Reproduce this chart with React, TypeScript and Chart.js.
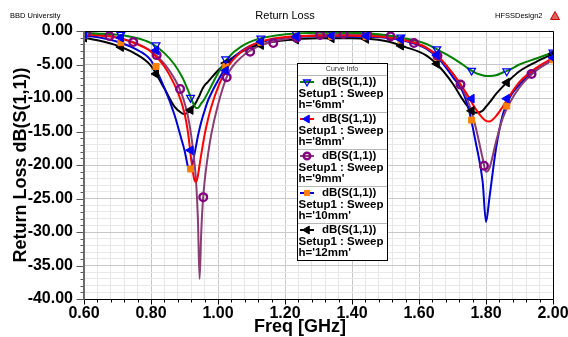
import React, { useEffect, useRef } from 'react';
import { Chart, registerables } from 'chart.js';

Chart.register(...registerables);

// ---- data ----
const freqs = [
  0.60, 0.65, 0.70, 0.75, 0.80, 0.84, 0.87, 0.89, 0.90, 0.905, 0.91, 0.915, 0.92, 0.925, 0.93, 0.935,
  0.94, 0.945, 0.95, 0.955, 0.96, 0.97, 0.98, 1.00, 1.03, 1.07, 1.12, 1.20, 1.30, 1.40, 1.50, 1.56,
  1.62, 1.66, 1.70, 1.73, 1.75, 1.77, 1.79, 1.80, 1.81, 1.83, 1.85, 1.87, 1.90, 1.95, 2.00,
];

const h6 = [
  -0.3, -0.4, -0.55, -0.95, -1.8, -3.3, -5.0, -6.6, -7.6, -8.2, -8.8, -9.4, -10.1, -10.7, -11.2, -11.5,
  -11.5, -11.2, -10.8, -10.5, -10.1, -9.2, -8.2, -6.3, -4.0, -2.3, -1.2, -0.5, -0.25, -0.25, -0.6, -1.1,
  -1.9, -2.9, -4.0, -5.0, -5.7, -6.3, -6.6, -6.7, -6.7, -6.6, -6.2, -5.8, -5.0, -4.1, -3.2,
];

const h8 = [
  -0.5, -0.7, -1.0, -1.8, -3.1, -5.3, -8.0, -10.5, -12.3, -13.5, -15.0, -17.0, -19.2, -21.0, -22.3, -22.5,
  -21.6, -20.0, -18.4, -16.9, -15.5, -13.2, -11.3, -8.4, -5.3, -3.1, -1.7, -0.9, -0.7, -0.7, -0.9, -1.4,
  -2.4, -3.9, -6.3, -8.4, -10.0, -11.7, -13.0, -13.4, -13.5, -12.7, -11.3, -9.7, -7.6, -5.5, -4.0,
];

const h9 = [
  -0.2, -0.5, -1.0, -1.7, -3.0, -4.9, -7.1, -9.2, -10.7, -11.6, -12.7, -14.0, -15.6, -17.5, -19.8, -22.8,
  -28.0, -37.0, -30.0, -25.3, -22.5, -18.5, -15.4, -11.0, -6.4, -3.9, -2.3, -1.2, -0.6, -0.45, -0.75, -1.3,
  -2.5, -4.0, -6.3, -8.6, -11.0, -14.5, -19.0, -21.0, -20.5, -16.5, -13.0, -10.8, -8.4, -5.9, -4.3,
];

const h10 = [
  -0.7, -1.0, -1.6, -2.6, -4.4, -8.5, -12.5, -16.0, -17.8, -19.0, -20.2, -20.9, -20.6, -19.6, -18.3, -17.0,
  -15.7, -14.6, -13.6, -12.7, -11.9, -10.4, -9.3, -7.4, -4.9, -3.0, -1.8, -1.0, -0.8, -0.85, -1.0, -1.5,
  -2.6, -4.2, -6.8, -9.0, -12.0, -16.8, -22.5, -28.5, -25.0, -17.5, -12.5, -10.0, -8.0, -5.8, -4.3,
];

const h12 = [
  -1.0, -1.5, -2.2, -3.3, -5.2, -8.6, -11.3, -12.2, -12.4, -12.3, -12.2, -12.0, -11.7, -11.4, -11.0, -10.6,
  -10.1, -9.6, -9.0, -8.5, -8.1, -7.6, -7.0, -5.9, -4.5, -3.1, -2.1, -1.4, -1.1, -1.1, -1.5, -2.4,
  -3.6, -5.3, -7.8, -10.2, -11.5, -12.2, -11.9, -11.3, -10.7, -9.4, -8.3, -7.3, -6.0, -4.6, -3.4,
];

const markerFreqs = [0.60, 0.71, 0.815, 0.918, 1.023, 1.128, 1.233, 1.339, 1.442, 1.546, 1.653, 1.757, 1.862, 2.00];
const h6Markers = [-0.3, -0.55, -2.1, -9.95, -4.2, -1.1, -0.4, -0.2, -0.35, -0.95, -2.7, -5.9, -6.0, -3.2];
const h8Markers = [-0.5, -1.0, -2.9, -17.8, -5.9, -1.6, -0.85, -0.7, -0.75, -1.25, -3.6, -10.1, -10.1, -4.0];
const h10Markers = [-0.7, -1.75, -5.3, -20.6, -5.3, -1.7, -0.95, -0.8, -0.85, -1.35, -3.9, -13.3, -11.2, -4.3];
const h12Markers = [-1.0, -2.4, -6.4, -11.8, -4.8, -2.1, -1.3, -1.1, -1.2, -2.2, -4.9, -11.9, -7.7, -3.4];

const h9MarkerFreqs = [0.606, 0.676, 0.747, 0.817, 0.887, 0.956, 1.026, 1.096, 1.165, 1.235, 1.305, 1.375, 1.445, 1.515, 1.585, 1.655, 1.724, 1.794, 1.936];
const h9Markers = [-0.25, -0.75, -1.65, -3.6, -8.65, -24.8, -6.9, -3.1, -1.8, -1.0, -0.6, -0.45, -0.45, -0.8, -1.8, -3.7, -8.0, -20.1, -6.4];

const seriesNames = ["h='6mm'", "h='8mm'", "h='9mm'", "h='10mm'", "h='12mm'"];
const xTickLabels = ['0.60', '0.80', '1.00', '1.20', '1.40', '1.60', '1.80', '2.00'];
const yTickLabels = ['0.00', '-5.00', '-10.00', '-15.00', '-20.00', '-25.00', '-30.00', '-35.00', '-40.00'];

const chartTitle = 'Return Loss';
const xTitle = 'Freq [GHz]';
const yTitle = 'Return Loss dB(S(1,1))';
const leftNote = 'BBD University';
const rightNote = 'HFSSDesign2';
const legendHeader = 'Curve Info';
const legendLine1 = 'dB(S(1,1))';
const legendLine2 = 'Setup1 : Sweep';

// ---- styles ----
const FONT = '"Liberation Sans", Arial, Helvetica, sans-serif';
const styles = [
  { line: '#008000', mColor: '#0000ff', mFill: 'rgba(255,255,255,0)', pointStyle: 'triangle', rotation: 180, radius: 4.5, bw: 1.3 },
  { line: '#ff0000', mColor: '#0000ff', mFill: '#0000ff', pointStyle: 'triangle', rotation: -90, radius: 5, bw: 1 },
  { line: '#8a3d72', mColor: '#800080', mFill: 'rgba(255,255,255,0)', pointStyle: 'circle', rotation: 0, radius: 3.8, bw: 2.4 },
  { line: '#0000d0', mColor: '#ff8000', mFill: '#ff8000', pointStyle: 'rect', rotation: 0, radius: 4.2, bw: 1 },
  { line: '#000000', mColor: '#000000', mFill: '#000000', pointStyle: 'triangle', rotation: -90, radius: 5, bw: 1 },
];

const lineSeries = [h6, h8, h9, h10, h12];
const markerSeries = [
  { f: markerFreqs, v: h6Markers },
  { f: markerFreqs, v: h8Markers },
  { f: h9MarkerFreqs, v: h9Markers },
  { f: markerFreqs, v: h10Markers },
  { f: markerFreqs, v: h12Markers },
];

const isMult = (v: number, step: number) => Math.abs(v / step - Math.round(v / step)) < 1e-6;

function drawMarker(ctx: CanvasRenderingContext2D, s: any, cx: number, cy: number, r: number) {
  ctx.save();
  ctx.translate(cx, cy);
  ctx.rotate((s.rotation * Math.PI) / 180);
  ctx.beginPath();
  if (s.pointStyle === 'circle') {
    ctx.arc(0, 0, r, 0, Math.PI * 2);
  } else if (s.pointStyle === 'rect') {
    const h = r / Math.SQRT2;
    ctx.rect(-h, -h, 2 * h, 2 * h);
  } else {
    const e = (r * 3) / Math.sqrt(3);
    const hgt = (e * Math.sqrt(3)) / 2;
    ctx.moveTo(0, -hgt * 2 / 3);
    ctx.lineTo(e / 2, hgt / 3);
    ctx.lineTo(-e / 2, hgt / 3);
    ctx.closePath();
  }
  ctx.fillStyle = s.mFill;
  ctx.fill();
  ctx.strokeStyle = s.mColor;
  ctx.lineWidth = s.bw;
  ctx.stroke();
  ctx.restore();
}

const overlayPlugin = {
  id: 'overlay',
  afterDraw(chart: any) {
    const { ctx, chartArea: a, scales } = chart;
    const x = scales.x;
    const y = scales.y;
    ctx.save();
    const L = Math.round(a.left) + 0.5;
    const T = Math.round(a.top) + 0.5;
    const R = Math.round(a.right) + 0.5;
    const B = Math.round(a.bottom) + 0.5;
    // frame: top, right, bottom black; left axis gray and thicker
    ctx.strokeStyle = '#000';
    ctx.lineWidth = 1;
    ctx.beginPath();
    ctx.moveTo(L, T);
    ctx.lineTo(R, T);
    ctx.lineTo(R, B);
    ctx.lineTo(L, B);
    ctx.stroke();
    ctx.strokeStyle = '#000';
    x.ticks.forEach((t: any) => {
      const px = Math.round(x.getPixelForValue(t.value)) + 0.5;
      const major = isMult(t.value, 0.2);
      ctx.beginPath();
      ctx.moveTo(px, B);
      ctx.lineTo(px, B + (major ? 5 : 3));
      ctx.stroke();
    });
    ctx.strokeStyle = '#555';
    y.ticks.forEach((t: any) => {
      const py = Math.round(y.getPixelForValue(t.value)) + 0.5;
      const major = isMult(t.value, 5);
      ctx.beginPath();
      ctx.moveTo(L, py);
      ctx.lineTo(L - (major ? 8 : 4), py);
      ctx.stroke();
    });
    ctx.strokeStyle = '#6a6a6a';
    ctx.lineWidth = 2;
    ctx.beginPath();
    ctx.moveTo(Math.round(a.left), T);
    ctx.lineTo(Math.round(a.left), B);
    ctx.stroke();
    ctx.lineWidth = 1;

    ctx.fillStyle = '#000';
    ctx.textBaseline = 'middle';
    ctx.font = `7.5px ${FONT}`;
    ctx.textAlign = 'left';
    ctx.fillText(leftNote, 10, 16);
    ctx.fillText(rightNote, 495, 16);
    ctx.font = `11px ${FONT}`;
    ctx.textAlign = 'center';
    ctx.fillText(chartTitle, 285, 16);
    ctx.beginPath();
    ctx.moveTo(555, 11.5);
    ctx.lineTo(559.5, 19.5);
    ctx.lineTo(550.5, 19.5);
    ctx.closePath();
    ctx.fillStyle = '#e06060';
    ctx.fill();
    ctx.strokeStyle = '#cc0000';
    ctx.stroke();

    ctx.fillStyle = '#000';
    ctx.font = `bold 18px ${FONT}`;
    ctx.textAlign = 'center';
    ctx.fillText(xTitle, 300, 327);
    ctx.save();
    ctx.translate(21, (a.top + a.bottom) / 2);
    ctx.rotate(-Math.PI / 2);
    ctx.fillText(yTitle, 0, 0);
    ctx.restore();

    const lx = 297, ly = 63, lw = 90, headH = 12, entryH = 37;
    const lh = headH + entryH * 5;
    ctx.fillStyle = '#fff';
    ctx.fillRect(lx, ly, lw, lh);
    ctx.strokeStyle = '#000';
    ctx.lineWidth = 1;
    ctx.strokeRect(lx + 0.5, ly + 0.5, lw, lh);
    ctx.fillStyle = '#333';
    ctx.font = `7px ${FONT}`;
    ctx.textAlign = 'center';
    ctx.fillText(legendHeader, lx + lw / 2, ly + 6.5);
    for (let i = 0; i < 5; i++) {
      const y0 = ly + headH + i * entryH;
      ctx.strokeStyle = '#b8b8b8';
      ctx.lineWidth = 1;
      ctx.beginPath();
      ctx.moveTo(lx + 1, y0 + 0.5);
      ctx.lineTo(lx + lw, y0 + 0.5);
      ctx.stroke();
      const s = styles[i];
      const my = y0 + 7;
      ctx.strokeStyle = s.line;
      ctx.lineWidth = 2;
      ctx.beginPath();
      ctx.moveTo(lx + 3, my);
      ctx.lineTo(lx + 17, my);
      ctx.stroke();
      drawMarker(ctx, s, lx + 10, my, s.radius - 0.5);
      ctx.fillStyle = '#000';
      ctx.font = `bold 11.5px ${FONT}`;
      ctx.textAlign = 'left';
      ctx.fillText(legendLine1, lx + 25, my);
      ctx.fillText(legendLine2, lx + 1.5, y0 + 18.5);
      ctx.fillText(seriesNames[i], lx + 1.5, y0 + 30);
    }
    ctx.restore();
  },
};

export default function App() {
  const ref = useRef<HTMLCanvasElement | null>(null);

  useEffect(() => {
    document.body.style.margin = '0';
    const canvas = ref.current;
    if (!canvas) return;

    const markerSets = markerSeries.map((m, i) => ({
      label: seriesNames[i] + ' markers',
      data: m.f.map((f, k) => ({ x: f, y: m.v[k] })),
      showLine: false,
      pointStyle: styles[i].pointStyle,
      rotation: styles[i].rotation,
      pointRadius: styles[i].radius,
      pointBorderWidth: styles[i].bw,
      pointBorderColor: styles[i].mColor,
      pointBackgroundColor: styles[i].mFill,
      borderColor: styles[i].mColor,
      backgroundColor: styles[i].mFill,
    }));

    const lineSets = lineSeries.map((vals, i) => ({
      label: seriesNames[i],
      data: freqs.map((f, k) => ({ x: f, y: vals[k] })),
      borderColor: styles[i].line,
      backgroundColor: styles[i].line,
      borderWidth: 2,
      pointRadius: 0,
      cubicInterpolationMode: 'monotone',
      fill: false,
    }));

    const chart = new Chart(canvas, {
      type: 'line',
      data: { datasets: [...markerSets, ...lineSets] as any },
      plugins: [overlayPlugin],
      options: {
        animation: false,
        responsive: false,
        devicePixelRatio: 1,
        layout: { padding: { left: 0, top: 31, right: 15, bottom: 0 } },
        plugins: {
          legend: { display: false },
          tooltip: { enabled: false },
          title: { display: false },
        },
        scales: {
          x: {
            type: 'linear',
            min: 0.6,
            max: 2.0,
            afterBuildTicks: (scale: any) => {
              const t = [];
              for (let i = 0; i <= 35; i++) t.push({ value: Math.round((0.6 + i * 0.04) * 100) / 100 });
              scale.ticks = t;
            },
            afterFit: (scale: any) => {
              scale.height = 38;
              scale.paddingLeft = 0;
              scale.paddingRight = 0;
            },
            border: { display: false },
            grid: {
              drawTicks: false,
              color: (c: any) => (isMult(c.tick.value, 0.2) ? '#c8c8c8' : '#e6e6e6'),
              lineWidth: 1,
            },
            ticks: {
              autoSkip: false,
              maxRotation: 0,
              padding: 5,
              color: '#000',
              font: { family: FONT, size: 16, weight: 'bold' },
              callback: (v: any) => {
                const n = Number(v);
                return isMult(n - 0.6, 0.2) ? xTickLabels[Math.round((n - 0.6) / 0.2)] : '';
              },
            },
          },
          y: {
            type: 'linear',
            min: -40,
            max: 0,
            afterBuildTicks: (scale: any) => {
              const t = [];
              for (let i = 40; i >= 0; i--) t.push({ value: -i });
              scale.ticks = t;
            },
            afterFit: (scale: any) => {
              scale.width = 84;
              scale.paddingTop = 0;
              scale.paddingBottom = 0;
            },
            border: { display: false },
            grid: {
              drawTicks: false,
              color: (c: any) => (isMult(c.tick.value, 5) ? '#c8c8c8' : '#e8e8e8'),
              lineWidth: 1,
            },
            ticks: {
              autoSkip: false,
              padding: 11,
              color: '#000',
              font: { family: FONT, size: 16, weight: 'bold' },
              callback: (v: any) => {
                const n = Number(v);
                return isMult(n, 5) ? yTickLabels[Math.round(-n / 5)] : '';
              },
            },
          },
        },
      } as any,
    });

    return () => chart.destroy();
  }, []);

  return (
    <div style={{ position: 'fixed', left: 0, top: 0, width: 568, height: 337, background: '#fff' }}>
      <canvas ref={ref} width={568} height={337} style={{ width: 568, height: 337, display: 'block' }} />
    </div>
  );
}
